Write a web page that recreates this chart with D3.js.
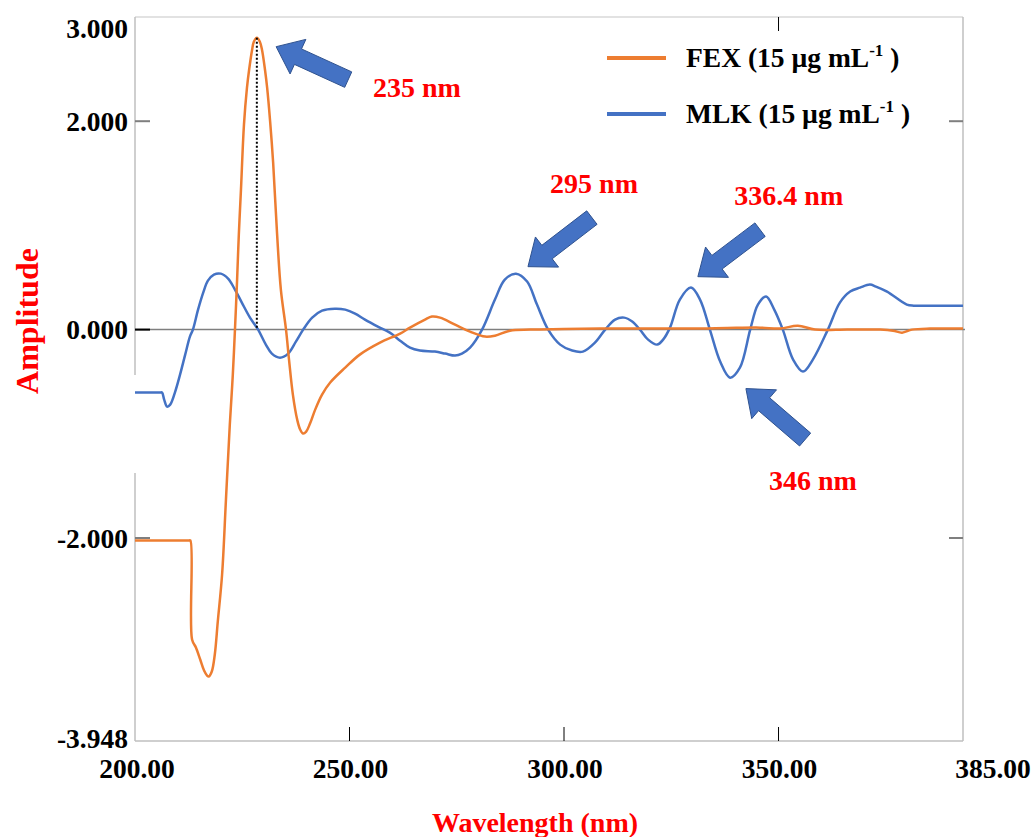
<!DOCTYPE html>
<html>
<head>
<meta charset="utf-8">
<script src="https://cdn.jsdelivr.net/npm/d3@7"></script>
<style>
  html, body { margin: 0; padding: 0; background: #fff; }
  svg { display: block; }
  text { font-family: "Liberation Serif", "Times New Roman", serif; font-weight: bold; }
</style>
</head>
<body>
<svg id="chart" width="1033" height="837"></svg>
<script>
// ---------------- data ----------------
const xDomain = [200, 393];
const yDomain = [-3.948, 3.0];
const xTickValues = [250, 300, 350];
const yTickValues = [3.0, 2.0, 0.0, -2.0, -3.948];
const xEndLabels = ["200.00", "385.00"];

const fexX = [200.0, 204.0, 208.0, 211.0, 212.5, 212.9, 213.3, 214.2, 215.2, 216.1, 216.8, 217.2, 217.9, 218.6, 219.3, 220.3, 221.2, 222.1, 222.8, 223.3, 223.8, 224.2, 224.7, 225.4, 226.1, 226.6, 227.3, 227.7, 228.4, 229.1, 229.6, 230.3, 230.8, 231.5, 232.2, 233.1, 234.0, 235.2, 235.9, 236.8, 237.8, 238.5, 239.2, 239.9, 240.8, 242.0, 243.6, 245.5, 249.0, 252.4, 257.1, 261.8, 264.1, 267.6, 269.2, 271.1, 274.6, 278.1, 281.6, 283.9, 287.4, 292.1, 300.0, 308.4, 317.7, 324.0, 331.7, 338.0, 345.7, 350.4, 354.5, 358.5, 366.0, 373.7, 376.7, 378.8, 381.1, 385.3, 389.0, 393.0];
const fexY = [-2.024, -2.024, -2.024, -2.024, -2.024, -2.024, -2.974, -3.051, -3.166, -3.272, -3.320, -3.329, -3.281, -3.118, -2.801, -2.350, -1.631, -0.911, -0.432, 0.0, 0.480, 0.911, 1.343, 1.967, 2.322, 2.494, 2.686, 2.763, 2.801, 2.763, 2.686, 2.494, 2.322, 1.996, 1.602, 0.931, 0.384, 0.0, -0.288, -0.624, -0.863, -0.959, -0.998, -0.979, -0.902, -0.768, -0.624, -0.508, -0.365, -0.240, -0.125, -0.038, 0.019, 0.096, 0.125, 0.115, 0.048, -0.019, -0.067, -0.058, -0.010, 0.0, 0.005, 0.010, 0.010, 0.010, 0.010, 0.015, 0.019, 0.010, 0.038, 0.0, 0.0, 0.0, -0.010, -0.029, 0.0, 0.010, 0.010, 0.010];

const mlkX = [200.0, 202.0, 204.0, 205.8, 206.3, 206.8, 207.5, 208.2, 209.3, 210.5, 211.7, 212.8, 213.5, 214.7, 215.9, 217.0, 218.4, 220.0, 221.7, 223.3, 224.9, 226.8, 228.7, 230.5, 231.9, 233.8, 235.7, 237.5, 239.2, 241.3, 243.6, 246.6, 249.0, 251.3, 253.6, 256.6, 259.4, 261.8, 264.1, 266.4, 269.9, 272.3, 274.6, 276.2, 278.1, 280.9, 283.9, 286.2, 288.8, 291.4, 293.7, 296.3, 299.1, 301.9, 304.4, 307.2, 309.6, 311.9, 314.0, 315.9, 317.7, 319.6, 321.7, 323.1, 324.7, 327.0, 329.6, 331.7, 334.0, 336.4, 338.7, 341.0, 343.4, 345.2, 347.1, 349.0, 351.0, 353.4, 355.7, 358.0, 361.5, 364.3, 366.7, 369.0, 371.3, 372.7, 375.3, 379.9, 381.5, 384.0, 388.0, 391.0, 393.0];
const mlkY = [-0.604, -0.604, -0.604, -0.604, -0.604, -0.672, -0.739, -0.720, -0.604, -0.432, -0.240, -0.067, 0.0, 0.192, 0.355, 0.470, 0.528, 0.537, 0.489, 0.384, 0.259, 0.115, 0.0, -0.144, -0.230, -0.269, -0.230, -0.115, 0.0, 0.115, 0.182, 0.201, 0.192, 0.154, 0.096, 0.029, -0.029, -0.106, -0.173, -0.201, -0.211, -0.230, -0.249, -0.230, -0.173, 0.0, 0.288, 0.480, 0.537, 0.461, 0.240, 0.0, -0.144, -0.201, -0.211, -0.125, 0.0, 0.096, 0.115, 0.077, 0.0, -0.096, -0.144, -0.096, 0.019, 0.288, 0.403, 0.288, 0.0, -0.307, -0.461, -0.365, 0.0, 0.240, 0.317, 0.192, 0.0, -0.288, -0.403, -0.288, 0.0, 0.259, 0.365, 0.403, 0.432, 0.413, 0.365, 0.240, 0.230, 0.230, 0.230, 0.230, 0.230];

const peakMarker = { x: 228.4, y: 2.801 };

const annotationLabels = ["235 nm", "295 nm", "336.4 nm", "346 nm"];
const annotationLabelX = [265.7, 307.0, 352.4, 358.0];
const annotationLabelY = [2.331, 1.401, 1.286, -1.449];
const arrowTipX = [232.9, 291.6, 331.2, 342.4];
const arrowTipY = [2.715, 0.604, 0.508, -0.566];
const arrowTailX = [249.7, 306.5, 345.7, 356.2];
const arrowTailY = [2.399, 1.075, 0.959, -1.055];

const seriesNames = ["FEX", "MLK"];
const seriesColors = ["#ED7D31", "#4472C4"];

// ---------------- chart ----------------
const svg = d3.select("#chart");
const x = d3.scaleLinear().domain(xDomain).range([135, 963]);
const y = d3.scaleLinear().domain(yDomain).range([741, 17]);

const gFrame = svg.append("g");
gFrame.append("line").attr("x1", 135).attr("x2", 963).attr("y1", 17).attr("y2", 17)
  .attr("stroke", "#d9d9d9").attr("stroke-width", 1.5);
gFrame.append("line").attr("x1", 963).attr("x2", 963).attr("y1", 17).attr("y2", 741)
  .attr("stroke", "#bfbfbf").attr("stroke-width", 1.5);
gFrame.append("line").attr("x1", 135).attr("x2", 963).attr("y1", 741).attr("y2", 741)
  .attr("stroke", "#bfbfbf").attr("stroke-width", 1.5);
gFrame.append("line").attr("x1", 135).attr("x2", 135).attr("y1", 17).attr("y2", 375)
  .attr("stroke", "#bfbfbf").attr("stroke-width", 1.5);
gFrame.append("line").attr("x1", 135).attr("x2", 135).attr("y1", 473).attr("y2", 741)
  .attr("stroke", "#bfbfbf").attr("stroke-width", 1.5);

// x ticks (bottom, inward) and top tick
svg.append("g").selectAll("line").data(xTickValues).join("line")
  .attr("x1", d => x(d)).attr("x2", d => x(d)).attr("y1", 741).attr("y2", 727)
  .attr("stroke", "#000").attr("stroke-width", 1);
svg.append("line").attr("x1", x(350)).attr("x2", x(350)).attr("y1", 17).attr("y2", 31)
  .attr("stroke", "#000").attr("stroke-width", 1);

// y ticks
const yInner = [2.0, -2.0];
svg.append("g").selectAll("line").data(yInner).join("line")
  .attr("x1", 135).attr("x2", 150).attr("y1", d => y(d)).attr("y2", d => y(d))
  .attr("stroke", "#7f7f7f").attr("stroke-width", 2);
svg.append("g").selectAll("line").data(yInner).join("line")
  .attr("x1", 949).attr("x2", 963).attr("y1", d => y(d)).attr("y2", d => y(d))
  .attr("stroke", "#7f7f7f").attr("stroke-width", 2);

// zero line
svg.append("line").attr("x1", 135).attr("x2", 965).attr("y1", y(0)).attr("y2", y(0))
  .attr("stroke", "#7f7f7f").attr("stroke-width", 1.5);
svg.append("line").attr("x1", 135).attr("x2", 150).attr("y1", y(0)).attr("y2", y(0))
  .attr("stroke", "#000").attr("stroke-width", 2);

// tick labels
svg.append("g").selectAll("text").data(yTickValues).join("text")
  .attr("x", 128)
  .attr("y", d => d === 3.0 ? y(d) + 11 : (d === -3.948 ? y(d) - 3 : y(d)))
  .attr("dy", "0.35em")
  .attr("text-anchor", "end")
  .attr("font-size", 27.5)
  .attr("fill", "#000")
  .text(d => d3.format(".3f")(d).replace("−", "-"));

svg.append("g").selectAll("text").data(xTickValues).join("text")
  .attr("x", d => x(d) + 1).attr("y", 778)
  .attr("text-anchor", "middle").attr("font-size", 27.5).attr("fill", "#000")
  .text(d => d3.format(".2f")(d));
svg.append("text").attr("x", x.range()[0] + 2).attr("y", 778)
  .attr("text-anchor", "middle").attr("font-size", 27.5).text(xEndLabels[0]);
svg.append("text").attr("x", x.range()[1] + 30).attr("y", 778)
  .attr("text-anchor", "middle").attr("font-size", 27.5).text(xEndLabels[1]);

// axis titles
svg.append("text").attr("x", 535).attr("y", 832)
  .attr("text-anchor", "middle").attr("font-size", 28).attr("fill", "#FF0000")
  .text("Wavelength (nm)");
svg.append("text").attr("transform", "translate(38,321) rotate(-90)")
  .attr("text-anchor", "middle").attr("font-size", 32).attr("fill", "#FF0000")
  .text("Amplitude");

// series
const line = d3.line().x(d => x(d[0])).y(d => y(d[1])).curve(d3.curveCatmullRom.alpha(0.5));
const fexData = fexX.map((v, i) => [v, fexY[i]]);
const mlkData = mlkX.map((v, i) => [v, mlkY[i]]);

svg.append("path").datum(mlkData).attr("d", line)
  .attr("fill", "none").attr("stroke", seriesColors[1]).attr("stroke-width", 2.5)
  .attr("stroke-linejoin", "round");
svg.append("path").datum(fexData).attr("d", line)
  .attr("fill", "none").attr("stroke", seriesColors[0]).attr("stroke-width", 2.5)
  .attr("stroke-linejoin", "round");

// dotted marker line at FEX peak
svg.append("line").attr("x1", x(peakMarker.x)).attr("x2", x(peakMarker.x))
  .attr("y1", y(peakMarker.y)).attr("y2", y(0))
  .attr("stroke", "#000").attr("stroke-width", 2).attr("stroke-dasharray", "2,2");

// legend
const legendY = [58, 114];
const legendBase = [67, 123];
seriesNames.forEach((name, i) => {
  svg.append("line").attr("x1", 607).attr("x2", 666).attr("y1", legendY[i]).attr("y2", legendY[i])
    .attr("stroke", seriesColors[i]).attr("stroke-width", 4);
  const t = svg.append("text").attr("x", 686).attr("y", legendBase[i]).attr("font-size", 27.5).attr("fill", "#000");
  t.append("tspan").text(name + " (15 µg mL");
  t.append("tspan").attr("font-size", 17).attr("dy", -11).text("-1");
  t.append("tspan").attr("dy", 11).text(" )");
});

// arrows
function arrowPath(tip, tail) {
  const dx = tip[0] - tail[0], dy = tip[1] - tail[1];
  const len = Math.hypot(dx, dy);
  const ux = dx / len, uy = dy / len;
  const nx = -uy, ny = ux;
  const headLen = 24, bodyW = 17, headW = 38;
  const hx = tip[0] - ux * headLen, hy = tip[1] - uy * headLen;
  const pts = [
    [tail[0] + nx * bodyW / 2, tail[1] + ny * bodyW / 2],
    [hx + nx * bodyW / 2, hy + ny * bodyW / 2],
    [hx + nx * headW / 2, hy + ny * headW / 2],
    tip,
    [hx - nx * headW / 2, hy - ny * headW / 2],
    [hx - nx * bodyW / 2, hy - ny * bodyW / 2],
    [tail[0] - nx * bodyW / 2, tail[1] - ny * bodyW / 2]
  ];
  return "M" + pts.map(p => p.join(",")).join("L") + "Z";
}
annotationLabels.forEach((lab, i) => {
  svg.append("path")
    .attr("d", arrowPath([x(arrowTipX[i]), y(arrowTipY[i])], [x(arrowTailX[i]), y(arrowTailY[i])]))
    .attr("fill", "#4472C4").attr("stroke", "#2F528F").attr("stroke-width", 1);
  svg.append("text").attr("x", x(annotationLabelX[i])).attr("y", y(annotationLabelY[i]))
    .attr("dy", "0.35em").attr("text-anchor", "middle").attr("font-size", 28).attr("fill", "#FF0000")
    .text(lab);
});
</script>
</body>
</html>
